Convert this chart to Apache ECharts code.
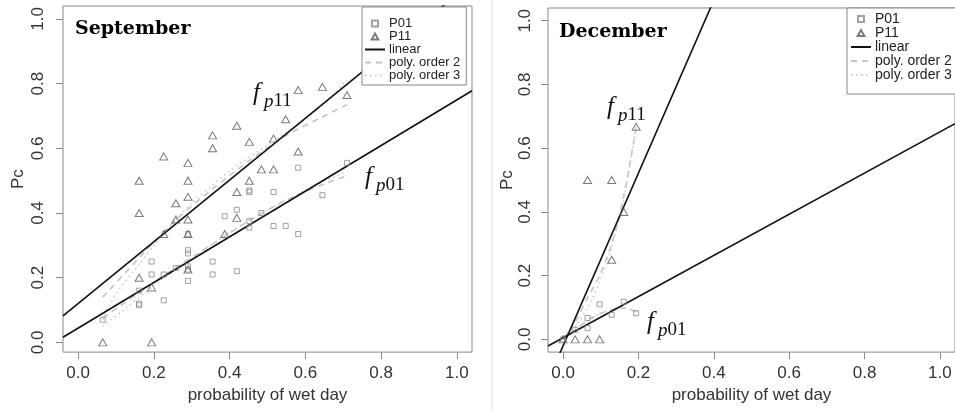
<!DOCTYPE html>
<html>
<head>
<meta charset="utf-8">
<script src="https://cdn.jsdelivr.net/npm/echarts@6/dist/echarts.min.js"></script>
<style>
  html, body { margin: 0; padding: 0; background: #fff; }
  #chart { width: 955px; height: 409px; }
</style>
</head>
<body>
<div id="chart"></div>
<script>
const ticks = [0, 0.2, 0.4, 0.6, 0.8, 1.0]
const legendNames = ['P01', 'P11', 'linear', 'poly. order 2', 'poly. order 3']

// September: observed transition probabilities vs probability of wet day
const sepP01 = [
  [0.065, 0.07], [0.161, 0.16], [0.161, 0.12], [0.161, 0.115],
  [0.194, 0.25], [0.194, 0.21], [0.226, 0.21], [0.226, 0.13], [0.258, 0.23],
  [0.29, 0.335], [0.29, 0.285], [0.29, 0.275], [0.29, 0.235], [0.29, 0.225], [0.29, 0.19],
  [0.355, 0.25], [0.355, 0.21], [0.387, 0.39], [0.419, 0.41], [0.419, 0.22],
  [0.452, 0.47], [0.452, 0.465], [0.452, 0.375], [0.452, 0.355], [0.484, 0.40],
  [0.516, 0.465], [0.516, 0.36], [0.548, 0.36], [0.581, 0.54], [0.581, 0.335],
  [0.645, 0.455], [0.71, 0.555]
]
const sepP11 = [
  [0.065, 0], [0.194, 0], [0.161, 0.2], [0.194, 0.17], [0.29, 0.225],
  [0.226, 0.335], [0.29, 0.335], [0.387, 0.335], [0.258, 0.38], [0.29, 0.38], [0.419, 0.385],
  [0.161, 0.40], [0.258, 0.43], [0.29, 0.45], [0.419, 0.465],
  [0.161, 0.50], [0.29, 0.50], [0.452, 0.50], [0.484, 0.535], [0.516, 0.535],
  [0.29, 0.555], [0.226, 0.575], [0.581, 0.59], [0.355, 0.60], [0.452, 0.62], [0.516, 0.63],
  [0.355, 0.64], [0.419, 0.67], [0.548, 0.69], [0.71, 0.765], [0.581, 0.78], [0.645, 0.79]
]
const sepLinearP01 = [[-0.04, 0.016], [1.04, 0.778]]
const sepLinearP11 = [[-0.04, 0.082], [1.04, 1.113]]
const sepPoly2P01 = [[0.065, 0.075], [0.15, 0.145], [0.25, 0.225], [0.35, 0.30], [0.45, 0.375], [0.55, 0.44], [0.65, 0.49], [0.71, 0.515]]
const sepPoly2P11 = [[0.065, 0.14], [0.16, 0.26], [0.25, 0.37], [0.35, 0.47], [0.45, 0.56], [0.55, 0.64], [0.65, 0.70], [0.71, 0.735]]
const sepPoly3P01 = [[0.065, 0.05], [0.12, 0.1], [0.2, 0.175], [0.3, 0.26], [0.4, 0.34], [0.5, 0.41], [0.6, 0.47], [0.71, 0.53]]
const sepPoly3P11 = [[0.065, 0.07], [0.1, 0.15], [0.16, 0.24], [0.2, 0.30], [0.25, 0.37], [0.3, 0.43], [0.4, 0.53], [0.5, 0.61], [0.6, 0.69], [0.65, 0.74], [0.71, 0.81]]

// December
const decP01 = [[0, 0], [0.032, 0.03], [0.065, 0.035], [0.065, 0.067], [0.097, 0.11], [0.129, 0.077], [0.161, 0.118], [0.194, 0.082]]
const decP11 = [[0, 0], [0.032, 0], [0.065, 0], [0.097, 0], [0.129, 0.25], [0.161, 0.4], [0.065, 0.5], [0.129, 0.5], [0.194, 0.667]]
const decLinearP01 = [[-0.04, -0.021], [1.04, 0.677]]
const decLinearP11 = [[-0.04, -0.129], [0.45, 1.2]]
const decPoly2P01 = [[0, 0], [0.032, 0.03], [0.065, 0.06], [0.097, 0.08], [0.129, 0.093], [0.161, 0.098], [0.194, 0.087]]
const decPoly2P11 = [[0, 0], [0.032, 0.055], [0.065, 0.13], [0.097, 0.2], [0.129, 0.3], [0.161, 0.45], [0.194, 0.665]]
const decPoly3P01 = [[0, 0.005], [0.032, 0.035], [0.065, 0.055], [0.097, 0.08], [0.129, 0.095], [0.161, 0.1], [0.194, 0.085]]
const decPoly3P11 = [[0, 0.01], [0.032, 0.04], [0.065, 0.1], [0.097, 0.18], [0.129, 0.29], [0.161, 0.44], [0.194, 0.67]]

const sans = 'Liberation Sans'
const serif = 'Liberation Serif'

const squareIcon = 'path://M0,0H10V10H0Z'
const triangleIcon = 'path://M5,0L10,9H0Z'

const styles = {
  linear: { color: '#111', width: 1.6, type: 'solid' },
  poly2: { color: '#c4c4c4', width: 1.6, type: [6, 5] },
  poly3: { color: '#cdcdcd', width: 1.6, type: [1.5, 3.5] }
}

function panelSeries (i, d) {
  const axes = { xAxisIndex: i, yAxisIndex: i, silent: true }
  const line = (name, data, style, smooth) => ({
    type: 'line', name, data, ...axes, symbol: 'none', smooth: smooth ? 0.3 : false, z: 3,
    lineStyle: style, itemStyle: { color: style.color }
  })
  return [
    line('poly. order 2', d.q01, styles.poly2, true),
    line('poly. order 2', d.q11, styles.poly2, true),
    line('poly. order 3', d.c01, styles.poly3, true),
    line('poly. order 3', d.c11, styles.poly3, true),
    line('linear', d.lin01, styles.linear),
    line('linear', d.lin11, styles.linear),
    {
      type: 'scatter', name: 'P01', data: d.p01, ...axes, symbol: 'rect', symbolSize: 5, z: 4,
      itemStyle: { color: 'rgba(0,0,0,0)', borderColor: '#8a8a8a', borderWidth: 1 }
    },
    {
      type: 'scatter', name: 'P11', data: d.p11, ...axes, symbol: 'triangle', symbolSize: [8, 7], z: 4,
      itemStyle: { color: 'rgba(0,0,0,0)', borderColor: '#5a5a5a', borderWidth: 1 }
    }
  ]
}

function xAxis (i) {
  return {
    type: 'value', gridIndex: i, min: -0.04, max: 1.04,
    axisLine: { show: false, onZero: false },
    splitLine: { show: false },
    axisTick: { customValues: ticks, length: 7, lineStyle: { color: '#888' } },
    axisLabel: { customValues: ticks, formatter: v => v.toFixed(1), fontFamily: sans, fontSize: 17, color: '#333', margin: 13 },
    name: 'probability of wet day', nameLocation: 'middle', nameGap: 31,
    nameTextStyle: { fontFamily: sans, fontSize: 17, color: '#333' }
  }
}

function yAxis (i, min, margin, gap) {
  return {
    type: 'value', gridIndex: i, min, max: 1.04,
    axisLine: { show: false, onZero: false },
    splitLine: { show: false },
    axisTick: { customValues: ticks, length: 7, lineStyle: { color: '#888' } },
    axisLabel: { customValues: ticks, formatter: v => v.toFixed(1), rotate: 90, fontFamily: sans, fontSize: 17, color: '#333', margin },
    name: 'Pc', nameLocation: 'middle', nameGap: gap,
    nameTextStyle: { fontFamily: sans, fontSize: 17, color: '#333' }
  }
}

// point rows get small path icons, line rows hide the marker the line icon adds
const legendData = [
  { name: legendNames[0], icon: squareIcon },
  { name: legendNames[1], icon: triangleIcon },
  ...legendNames.slice(2).map(name => ({ name, itemStyle: { opacity: 0 } }))
]

function legend (left, top, fontSize, lineHeight, padding) {
  return {
    data: legendData, left, top, orient: 'vertical', itemGap: 0, itemWidth: 20, itemHeight: 6,
    symbolKeepAspect: true,
    padding, backgroundColor: '#fff', borderColor: '#888', borderWidth: 1, borderRadius: 0,
    selectedMode: false,
    textStyle: { fontFamily: sans, fontSize, lineHeight, color: '#222', padding: [0, 0, 0, -1] }
  }
}

function mathLabel (left, top, sub) {
  return [
    { type: 'text', left, top, z: 10, style: { text: 'f', font: `italic 25px "${serif}"`, fill: '#111' } },
    {
      type: 'text', left: left + 11, top: top + 11, z: 10,
      style: {
        text: `{i|p}{n|${sub}}`, fill: '#111',
        rich: {
          i: { fontFamily: serif, fontStyle: 'italic', fontSize: 19, fill: '#111' },
          n: { fontFamily: serif, fontSize: 19, fill: '#111' }
        }
      }
    }
  ]
}

const chart = echarts.init(document.getElementById('chart'), null, { renderer: 'canvas' })

const option = {
  animation: false,
  backgroundColor: '#fff',
  grid: [
    { left: 63, top: 6, width: 409, height: 347, show: true, borderColor: '#888', borderWidth: 1, backgroundColor: 'transparent' },
    { left: 548, top: 8, width: 410, height: 350, show: true, borderColor: '#888', borderWidth: 1, backgroundColor: 'transparent' }
  ],
  xAxis: [xAxis(0), xAxis(1)],
  yAxis: [yAxis(0, -0.03, 16, 36), yAxis(1, -0.04, 14, 30)],
  legend: [
    legend(362, 7, 13, 12, [10, 6, 3, 2]),
    legend(847, 8, 14, 12.5, [4, 6, 12, 3])
  ],
  series: [
    ...panelSeries(0, {
      p01: sepP01, p11: sepP11, lin01: sepLinearP01, lin11: sepLinearP11,
      q01: sepPoly2P01, q11: sepPoly2P11, c01: sepPoly3P01, c11: sepPoly3P11
    }),
    ...panelSeries(1, {
      p01: decP01, p11: decP11, lin01: decLinearP01, lin11: decLinearP11,
      q01: decPoly2P01, q11: decPoly2P11, c01: decPoly3P01, c11: decPoly3P11
    })
  ],
  graphic: [
    { type: 'line', shape: { x1: 492, y1: 0, x2: 492, y2: 409 }, style: { stroke: '#dcdcdc', lineWidth: 1 } },
    { type: 'text', left: 75, top: 20, z: 10, style: { text: 'September', font: 'bold 19px "DejaVu Serif"', fill: '#000' } },
    { type: 'text', left: 559, top: 23, z: 10, style: { text: 'December', font: 'bold 19px "DejaVu Serif"', fill: '#000' } },
    ...mathLabel(253, 81, '11'),
    ...mathLabel(365, 165, '01'),
    ...mathLabel(607, 95, '11'),
    ...mathLabel(647, 310, '01')
  ]
}

chart.setOption(option)
</script>
</body>
</html>
